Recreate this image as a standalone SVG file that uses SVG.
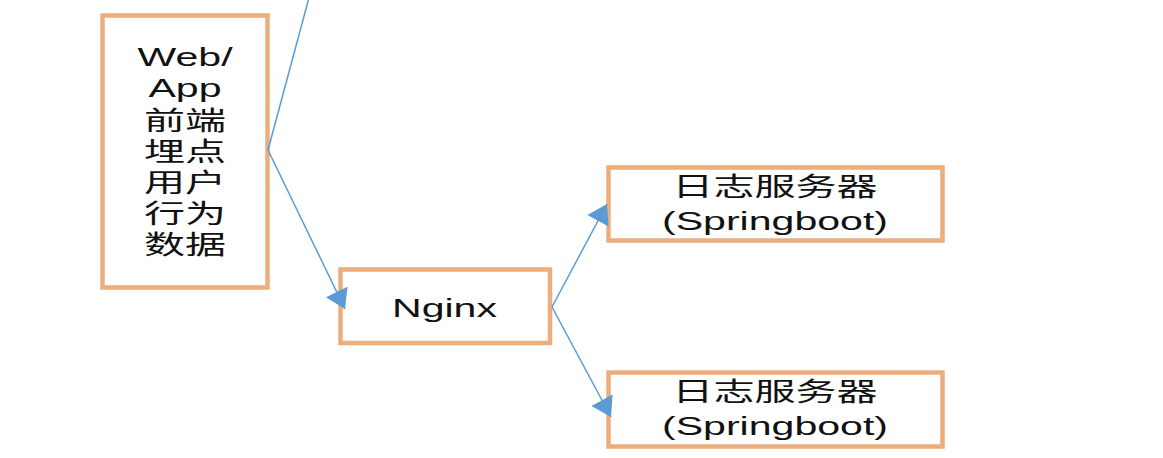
<svg xmlns="http://www.w3.org/2000/svg" width="1163" height="458" viewBox="0 0 1163 458">
<style>
.box{fill:#ffffff;stroke:#EDAE7E;stroke-width:4.5}
.lbl{font-family:"Liberation Sans","Noto Sans CJK SC",sans-serif;font-size:26px;fill:#111111;text-anchor:middle}
.conn{stroke:#5B9BD5;stroke-width:1.5;fill:none}
</style>
<defs>
<marker id="ah" markerUnits="userSpaceOnUse" markerWidth="28" markerHeight="28" viewBox="0 0 28 28" refX="22" refY="14" orient="auto">
<path d="M3,2 L22,14 L3,26 Z" fill="#5B9BD5"/>
</marker>
</defs>
<rect width="1163" height="458" fill="#ffffff"/>
<g id="node-web">
<rect class="box" x="102.5" y="15.5" width="165" height="272"/>
<text class="lbl" transform="matrix(1.58 0 0 1 185 0)" x="0" y="66">Web/</text>
<text class="lbl" transform="matrix(1.58 0 0 1 185 0)" x="0" y="97">App</text>
<text class="lbl" transform="matrix(1.58 0 0 1 185 0)" x="0" y="130">前端</text>
<text class="lbl" transform="matrix(1.58 0 0 1 185 0)" x="0" y="161">埋点</text>
<text class="lbl" transform="matrix(1.58 0 0 1 185 0)" x="0" y="192">用户</text>
<text class="lbl" transform="matrix(1.58 0 0 1 185 0)" x="0" y="223">行为</text>
<text class="lbl" transform="matrix(1.58 0 0 1 185 0)" x="0" y="254">数据</text>
</g>
<g id="node-nginx">
<rect class="box" x="340.5" y="269.5" width="209.5" height="73.5"/>
<text class="lbl" transform="matrix(1.58 0 0 1 444.5 0)" x="0" y="317">Nginx</text>
</g>
<g id="node-server1">
<rect class="box" x="608.5" y="167.5" width="334" height="73"/>
<text class="lbl" transform="matrix(1.58 0 0 1 775 0)" x="0" y="196">日志服务器</text>
<text class="lbl" transform="matrix(1.58 0 0 1 775 0)" x="0" y="230">(Springboot)</text>
</g>
<g id="node-server2">
<rect class="box" x="608.5" y="372.5" width="334" height="74"/>
<text class="lbl" transform="matrix(1.58 0 0 1 775 0)" x="0" y="401">日志服务器</text>
<text class="lbl" transform="matrix(1.58 0 0 1 775 0)" x="0" y="435">(Springboot)</text>
</g>
<g id="connectors">
<path class="conn" d="M268,150 L310,-6"/>
<path class="conn" d="M268,150 L345,309" marker-end="url(#ah)"/>
<path class="conn" d="M552,307 L607,204" marker-end="url(#ah)"/>
<path class="conn" d="M552,307 L611,417" marker-end="url(#ah)"/>
</g>
</svg>
